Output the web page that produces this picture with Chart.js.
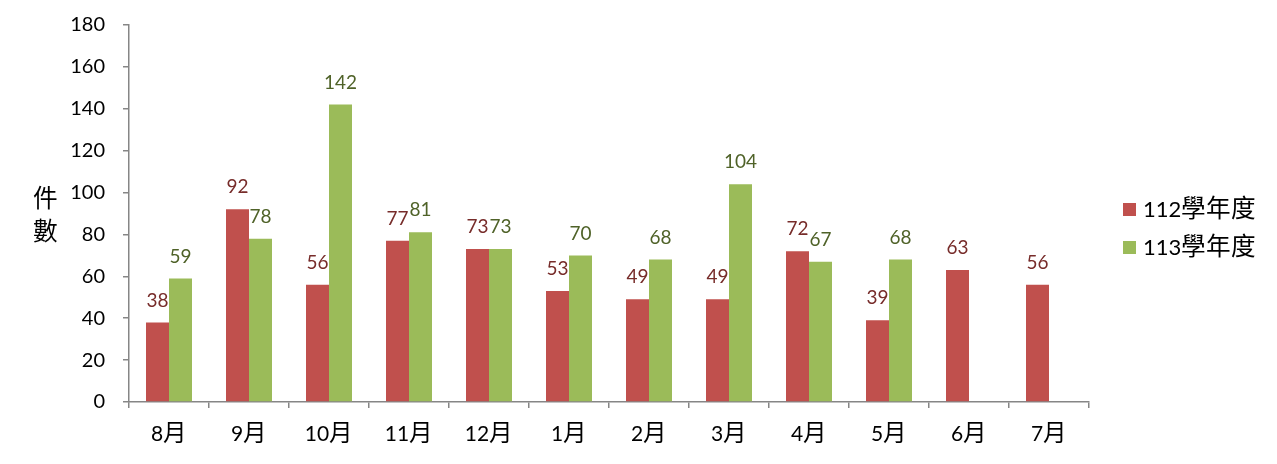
<!DOCTYPE html>
<html>
<head>
<meta charset="utf-8">
<script src="https://cdn.jsdelivr.net/npm/chart.js@4/dist/chart.umd.min.js"></script>
<style>
@font-face {
  font-family: 'CJKX';
  src: local('Noto Sans CJK TC'), local('Noto Sans CJK TC Regular'), local('NotoSansCJKtc-Regular'), local('Noto Sans CJK SC'), local('Noto Sans CJK SC Regular'), local('NotoSansCJKsc-Regular');
  unicode-range: U+3000-9FFF, U+F900-FAFF;
  size-adjust: 112%;
}
html,body{margin:0;padding:0;background:#fff;}
#wrap{width:1277px;height:464px;position:relative;}
</style>
</head>
<body>
<div id="wrap"><canvas id="c" width="1277" height="464"></canvas></div>
<script>
const categories = ['8月','9月','10月','11月','12月','1月','2月','3月','4月','5月','6月','7月'];
const series112 = [38, 92, 56, 77, 73, 53, 49, 49, 72, 39, 63, 56];
const series113 = [59, 78, 142, 81, 73, 70, 68, 104, 67, 68, null, null];
const seriesNames = ['112學年度', '113學年度'];
const yTitle = ['件', '數'];

const FONT = "Lato, CJKX, 'Noto Sans CJK TC', sans-serif";
const barColors = ['#C0504D', '#9BBB59'];
const labelColors = ['#772C2A', '#4F6228'];

const labelPlugin = {
  id: 'valueLabels',
  afterDatasetsDraw(chart) {
    const ctx = chart.ctx;
    ctx.save();
    ctx.font = '19px ' + FONT;
    ctx.textAlign = 'center';
    ctx.textBaseline = 'middle';
    chart.data.datasets.forEach((ds, i) => {
      const meta = chart.getDatasetMeta(i);
      meta.data.forEach((bar, j) => {
        const v = ds.data[j];
        if (v === null || v === undefined) return;
        ctx.fillStyle = labelColors[i];
        ctx.fillText(String(v), bar.x, bar.y - 22);
      });
    });
    ctx.restore();
  }
};

const extrasPlugin = {
  id: 'extras',
  afterDraw(chart) {
    const ctx = chart.ctx;
    ctx.save();
    ctx.font = '22px ' + FONT;
    ctx.fillStyle = '#000';
    ctx.textAlign = 'center';
    ctx.textBaseline = 'middle';
    ctx.fillText(yTitle[0], 45, 200);
    ctx.fillText(yTitle[1], 45, 233);
    ctx.font = '22px ' + FONT;
    ctx.textAlign = 'left';
    seriesNames.forEach((name, i) => {
      const cy = 209 + i * 38;
      ctx.fillStyle = barColors[i];
      ctx.fillRect(1123, cy - 6, 13, 13);
      ctx.fillStyle = '#000';
      ctx.fillText(name, 1143, cy + 1);
    });
    ctx.restore();
  }
};

function draw() {
  new Chart(document.getElementById('c'), {
    type: 'bar',
    data: {
      labels: categories,
      datasets: [
        { label: seriesNames[0], data: series112, backgroundColor: barColors[0], categoryPercentage: 0.575, barPercentage: 1.0 },
        { label: seriesNames[1], data: series113, backgroundColor: barColors[1], categoryPercentage: 0.575, barPercentage: 1.0 }
      ]
    },
    options: {
      responsive: false,
      animation: false,
      layout: { padding: { left: 0, right: 188, top: 25, bottom: 0 } },
      plugins: { legend: { display: false }, tooltip: { enabled: false } },
      scales: {
        x: {
          offset: true,
          grid: { display: true, drawOnChartArea: false, offset: true, tickLength: 6, color: '#868686', lineWidth: 1.5 },
          border: { display: true, color: '#868686', width: 1.5 },
          ticks: { font: { family: FONT, size: 21 }, color: '#000', padding: 14, maxRotation: 0 },
          afterFit(scale) { scale.height = 62; scale.paddingLeft = 0; scale.paddingRight = 0; }
        },
        y: {
          min: 0, max: 180,
          grid: { display: true, drawOnChartArea: false, tickLength: 6, color: '#868686', lineWidth: 1.5 },
          border: { display: true, color: '#868686', width: 1.5 },
          ticks: { stepSize: 20, font: { family: FONT, size: 20 }, color: '#000', padding: 18 },
          afterFit(scale) { scale.width = 129; scale.paddingTop = 0; scale.paddingBottom = 0; }
        }
      }
    },
    plugins: [labelPlugin, extrasPlugin]
  });
}

Promise.all([
  document.fonts.load('20px Lato', '0123456789'),
  document.fonts.load('20px CJKX', '月學年度件數')
]).catch(() => {}).then(draw, draw);
</script>
</body>
</html>
